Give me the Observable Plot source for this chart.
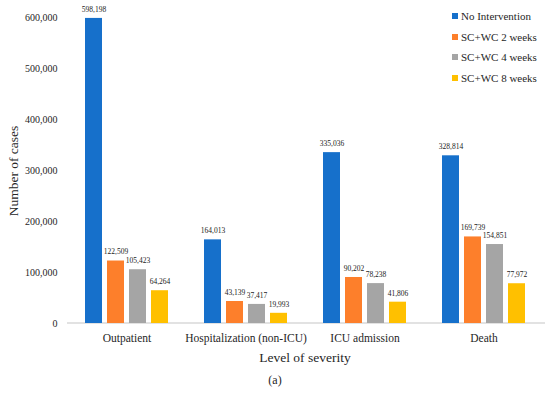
<!DOCTYPE html>
<html>
<head>
<meta charset="utf-8">
<script src="https://cdn.jsdelivr.net/npm/d3@7"></script>
<script src="https://cdn.jsdelivr.net/npm/@observablehq/plot@0.6"></script>
<style>
  html, body { margin: 0; padding: 0; background: #fff; }
  #wrap { position: relative; width: 550px; height: 393px; font-family: 'Liberation Serif', 'Times New Roman', serif; color: #262626; }
  .ytitle { position: absolute; left: 14px; top: 171px; transform: translate(-50%, -50%) rotate(-90deg); font-size: 13.5px; white-space: nowrap; }
  .xtitle { position: absolute; left: 305px; top: 358px; transform: translate(-50%, -50%); font-size: 13.5px; white-space: nowrap; }
  .caption { position: absolute; left: 275px; top: 380px; transform: translate(-50%, -50%); font-size: 12px; white-space: nowrap; }
  .legend { position: absolute; left: 452px; top: 0; font-size: 11px; }
  .legend .row { position: absolute; left: 0; white-space: nowrap; display: flex; align-items: center; transform: translateY(-50%); }
  .legend .sw { width: 6px; height: 6px; margin-right: 3px; }
</style>
</head>
<body>
<div id="wrap"></div>
<script>
const categories = ["Outpatient", "Hospitalization (non-ICU)", "ICU admission", "Death"];
const series = ["No Intervention", "SC+WC 2 weeks", "SC+WC 4 weeks", "SC+WC 8 weeks"];
const noIntervention = [598198, 164013, 335036, 328814];
const scwc2 = [122509, 43139, 90202, 169739];
const scwc4 = [105423, 37417, 78238, 154851];
const scwc8 = [64264, 19993, 41806, 77972];
const yTicks = [0, 100000, 200000, 300000, 400000, 500000, 600000];
const colors = ["#1670CB", "#FD7F2B", "#A5A5A5", "#FFC000"];

const seriesValues = [noIntervention, scwc2, scwc4, scwc8];
const data = [];
categories.forEach((c, i) => {
  series.forEach((s, j) => data.push({category: c, series: s, value: seriesValues[j][i]}));
});
const fmt = d3.format(",");

const plot = Plot.plot({
  width: 550,
  height: 368,
  marginLeft: 67,
  marginRight: 7,
  marginTop: 17,
  marginBottom: 45,
  style: {fontFamily: "'Liberation Serif', 'Times New Roman', serif", fontSize: "11px", color: "#262626", background: "white"},
  fx: {domain: categories, paddingInner: 0.3, paddingOuter: 0.15, label: null},
  x: {domain: series, paddingInner: 0.23, paddingOuter: 0, axis: null},
  y: {domain: [0, 600000], label: null},
  color: {domain: series, range: colors},
  marks: [
    Plot.axisY({ticks: yTicks, tickFormat: fmt, tickSize: 0, tickPadding: 28, fontSize: 10, label: null}),
    Plot.axisFx({anchor: "bottom", tickSize: 0, tickPadding: 10, fontSize: 11.5, label: null}),
    Plot.barY(data, {fx: "category", x: "series", y: "value", fill: "series"}),
    Plot.text(data, {fx: "category", x: "series", y: "value", text: d => fmt(d.value), dy: -9, fontSize: 7.5, fill: "#222"})
  ]
});

const wrap = document.getElementById("wrap");
wrap.appendChild(plot);

// baseline across the full band range
const ys = plot.scale("y");
const fxs = plot.scale("fx");
const y0 = ys.apply(0);
const svg = d3.select(plot);
svg.insert("line", "g")
  .attr("x1", fxs.range[0]).attr("x2", fxs.range[1] + 2)
  .attr("y1", y0).attr("y2", y0)
  .attr("stroke", "#d9d9d9").attr("stroke-width", 1.5);

// titles
const yt = document.createElement("div"); yt.className = "ytitle"; yt.textContent = "Number of cases"; wrap.appendChild(yt);
const xt = document.createElement("div"); xt.className = "xtitle"; xt.textContent = "Level of severity"; wrap.appendChild(xt);
const cap = document.createElement("div"); cap.className = "caption"; cap.textContent = "(a)"; wrap.appendChild(cap);

// legend
const lg = document.createElement("div"); lg.className = "legend";
const rowY = [16, 37, 57, 78];
const cs = plot.scale("color");
series.forEach((s, i) => {
  const r = document.createElement("div"); r.className = "row"; r.style.top = rowY[i] + "px";
  const sw = document.createElement("span"); sw.className = "sw"; sw.style.background = cs.apply(s);
  const t = document.createElement("span"); t.textContent = s;
  r.appendChild(sw); r.appendChild(t); lg.appendChild(r);
});
wrap.appendChild(lg);
</script>
</body>
</html>
